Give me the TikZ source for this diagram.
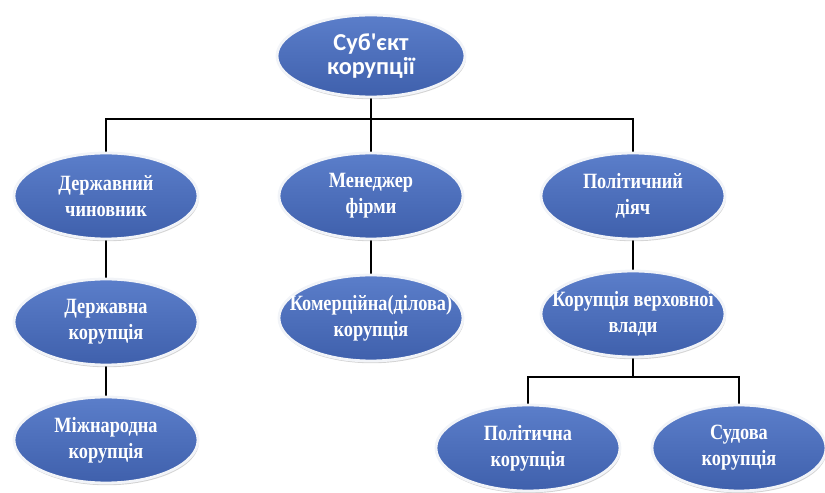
\documentclass[tikz,border=0pt]{standalone}
\usepackage{fontspec}
\setmainfont{Liberation Serif}
\newfontfamily\ovalfont[FakeStretch=0.84]{Liberation Serif}
\newfontfamily\titlefont{Carlito}
\usetikzlibrary{shapes.geometric,shadows,backgrounds}

\definecolor{ovaltop}{HTML}{5B7ECA}
\definecolor{ovalbot}{HTML}{3F60AC}
\definecolor{ovalrim}{HTML}{F2F4F8}

\begin{document}
\begin{tikzpicture}[
    oval/.style={ellipse,inner xsep=-22pt,inner ysep=0pt,minimum width=4.6cm,minimum height=2.15cm,
        top color=ovaltop,bottom color=ovalbot,draw=ovalrim,line width=2pt,
        drop shadow={opacity=0.35,shadow xshift=0.6pt,shadow yshift=-1.6pt},
        text=white,align=center,font=\ovalfont\bfseries\fontsize{15.5}{18.4}\selectfont},
    conn/.style={line width=2pt,black}
  ]
    \useasboundingbox (0,0) rectangle (20.625,12.325);

    %%%%%%%%% Ovali %%%%%%%%%
    \node[oval,minimum width=4.7cm,minimum height=2.05cm,
          font=\titlefont\bfseries\fontsize{17.3}{16.5}\selectfont] (sub) at (9.275,10.925) {Суб'єкт\\корупції};

    \node[oval] (chyn) at (2.65,7.425) {Державний\\чиновник};
    \node[oval] (men) at (9.275,7.425) {Менеджер\\фірми};
    \node[oval] (pol) at (15.825,7.425) {Політичний\\діяч};

    \node[oval] (derzh) at (2.65,4.275) {Державна\\корупція};
    \node[oval] (kom) at (9.275,4.375) {Комерційна(ділова)\\корупція};
    \node[oval] (verkh) at (15.825,4.475) {Корупція верховної\\влади};

    \node[oval] (mizh) at (2.65,1.325) {Міжнародна\\корупція};
    \node[oval] (polk) at (13.2,1.125) {Політична\\корупція};
    \node[oval,minimum width=4.35cm] (sud) at (18.475,1.125) {Судова\\корупція};

    %%%%%%%%% Linee %%%%%%%%%
    \coordinate (bus) at (9.275,9.35);
    \coordinate (bus2) at (15.825,2.9);
    \begin{scope}[on background layer]
        \draw[conn] (sub.south) -- (men.north);
        \draw[conn] (chyn.north) |- (bus) -| (pol.north);
        \draw[conn] (chyn.south) -- (derzh.north);
        \draw[conn] (derzh.south) -- (mizh.north);
        \draw[conn] (men.south) -- (kom.north);
        \draw[conn] (pol.south) -- (verkh.north);
        \draw[conn] (verkh.south) -- (bus2);
        \draw[conn] (polk.north) |- (bus2) -| (sud.north);
    \end{scope}
\end{tikzpicture}
\end{document}
